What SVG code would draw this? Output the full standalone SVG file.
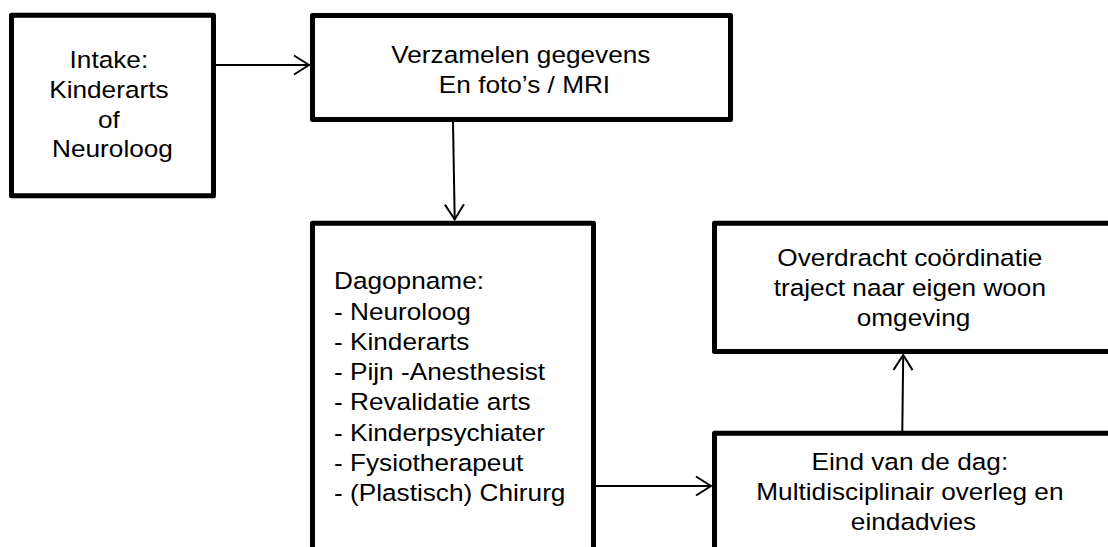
<svg xmlns="http://www.w3.org/2000/svg" width="1108" height="547" viewBox="0 0 1108 547">
  <defs>
    <style>
      .box { fill: #ffffff; stroke: #000000; stroke-width: 5; stroke-linejoin: round; }
      .conn { stroke: #000000; stroke-width: 2; fill: none; }
      .lbl { font-family: "Liberation Sans", Arial, sans-serif; font-size: 23.3px; fill: #000000; }
      .c { text-anchor: middle; }
    </style>
    <marker id="arr" markerUnits="userSpaceOnUse" markerWidth="20" markerHeight="24" refX="0" refY="0" viewBox="-17 -12 20 24" orient="auto" overflow="visible">
      <path d="M -15 -9.5 L 0 0 L -15 9.5" fill="none" stroke="#000000" stroke-width="2"/>
    </marker>
  </defs>
  <rect width="1108" height="547" fill="#ffffff"/>

  <g id="connectors">
    <line class="conn" x1="216" y1="65" x2="309" y2="65" marker-end="url(#arr)"/>
    <line class="conn" x1="453" y1="122" x2="454.7" y2="219.5" marker-end="url(#arr)"/>
    <line class="conn" x1="596" y1="486" x2="711" y2="486" marker-end="url(#arr)"/>
    <line class="conn" x1="902.3" y1="431" x2="903.2" y2="355" marker-end="url(#arr)"/>
  </g>

  <g id="node-intake">
    <rect class="box" x="11.5" y="15.2" width="202" height="180.5"/>
    <text class="lbl c" transform="matrix(1.125 0 0 1 112.5 0)">
      <tspan x="0" y="68.3">Intake:</tspan>
      <tspan x="0" y="98">Kinderarts</tspan>
      <tspan x="0" y="127.7">of</tspan>
      <tspan x="0" y="157.3">Neuroloog</tspan>
    </text>
  </g>

  <g id="node-verzamelen">
    <rect class="box" x="312.5" y="15.5" width="418" height="104"/>
    <text class="lbl c" transform="matrix(1.125 0 0 1 524.5 0)">
      <tspan x="0" y="63.5">Verzamelen gegevens</tspan>
      <tspan x="0" y="93">En foto’s / MRI</tspan>
    </text>
  </g>

  <g id="node-dagopname">
    <rect class="box" x="312.5" y="223.2" width="281" height="340"/>
    <text class="lbl" transform="matrix(1.125 0 0 1 334 0)">
      <tspan x="0" y="289.3">Dagopname:</tspan>
      <tspan x="0" y="319.6">- Neuroloog</tspan>
      <tspan x="0" y="349.9">- Kinderarts</tspan>
      <tspan x="0" y="380.2">- Pijn -Anesthesist</tspan>
      <tspan x="0" y="410.5">- Revalidatie arts</tspan>
      <tspan x="0" y="440.8">- Kinderpsychiater</tspan>
      <tspan x="0" y="471.1">- Fysiotherapeut</tspan>
      <tspan x="0" y="501.4">- (Plastisch) Chirurg</tspan>
    </text>
  </g>

  <g id="node-overdracht">
    <rect class="box" x="714.5" y="223.2" width="404" height="128.3"/>
    <text class="lbl c" transform="matrix(1.125 0 0 1 913.5 0)">
      <tspan x="0" y="266">Overdracht coördinatie</tspan>
      <tspan x="0" y="296">traject naar eigen woon</tspan>
      <tspan x="0" y="326">omgeving</tspan>
    </text>
  </g>

  <g id="node-eind">
    <rect class="box" x="714.5" y="433.2" width="404" height="200"/>
    <text class="lbl c" transform="matrix(1.125 0 0 1 913.5 0)">
      <tspan x="0" y="470">Eind van de dag:</tspan>
      <tspan x="0" y="500">Multidisciplinair overleg en</tspan>
      <tspan x="0" y="530">eindadvies</tspan>
    </text>
  </g>
</svg>
